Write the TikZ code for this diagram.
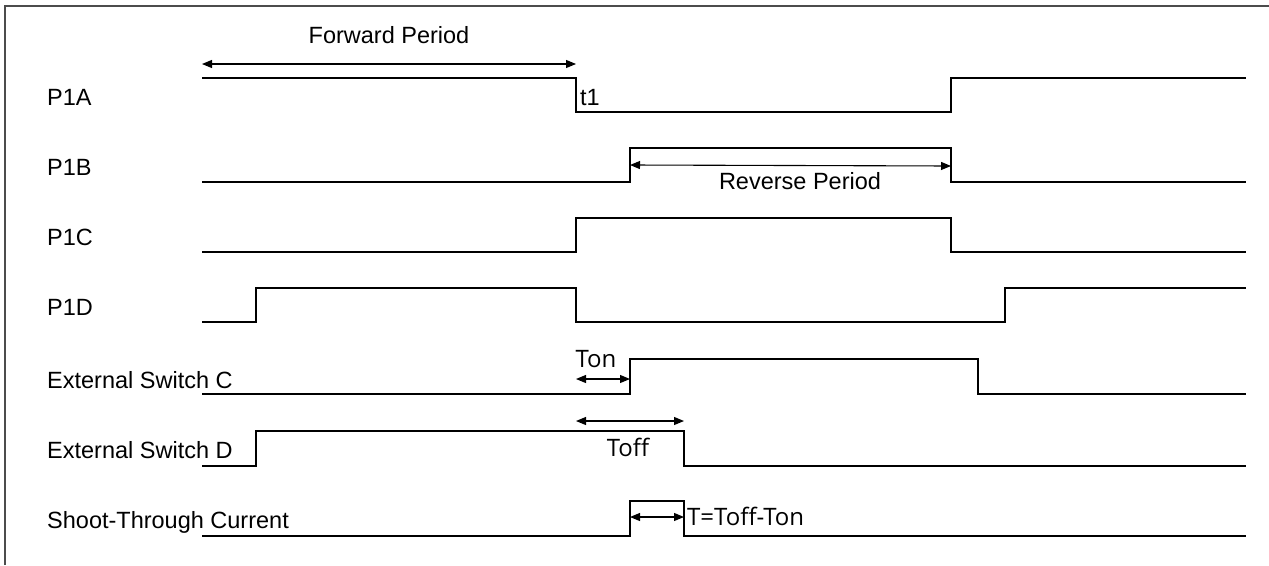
\documentclass[tikz,border=0pt]{standalone}
\usepackage{fontspec}
\setmainfont{Liberation Sans}
\newfontfamily\uifont{Open Sans}
\usetikzlibrary{arrows.meta}

\tikzset{
  wave/.style={line width=2.2pt, line join=miter},
  span/.style={{Triangle[length=10pt,width=8pt]}-{Triangle[length=10pt,width=8pt]}, line width=1.1pt},
  siglabel/.style={anchor=base west, inner sep=0pt, font=\fontsize{23.5}{28}\selectfont},
  uilabel/.style={anchor=base, inner sep=0pt, font=\uifont\fontsize{24}{28}\selectfont},
}

\begin{document}
\begin{tikzpicture}[x=1pt, y=-1pt]
    \useasboundingbox (0,0) rectangle (1269,565);

    % Frame (top and left edge)
    \draw[black!70, line width=1.5pt] (5,565) -- (5,6) -- (1269,6);

    % Signal names
    \node[siglabel] (p1a)   at (47,105) {P1A};
    \node[siglabel] (p1b)   at (47,175) {P1B};
    \node[siglabel] (p1c)   at (47,245) {P1C};
    \node[siglabel] (p1d)   at (47,315) {P1D};
    \node[siglabel] (extc)  at (47,388) {External Switch C};
    \node[siglabel] (extd)  at (47,458) {External Switch D};
    \node[siglabel] (shoot) at (47,528) {Shoot-Through Current};

    % Waveforms
    \draw[wave] (202,78) -| (576,112) -| (951,78) -- (1246,78);
    \draw[wave] (202,182) -| (630,148) -| (951,182) -- (1246,182);
    \draw[wave] (202,252) -| (576,218) -| (951,252) -- (1246,252);
    \draw[wave] (202,322) -| (256,288) -| (576,322) -| (1005,288) -- (1246,288);
    \draw[wave] (202,394) -| (630,359) -| (978,394) -- (1246,394);
    \draw[wave] (202,466) -| (256,431) -| (684,466) -- (1246,466);
    \draw[wave] (202,536) -| (630,501) -| (684,536) -- (1246,536);

    % Forward period and t1
    \coordinate (fwdL) at (202,64);
    \coordinate (fwdR) at (576,64);
    \draw[span] (fwdL) -- (fwdR);
    \node[siglabel, anchor=base] (fwd) at (389,43) {Forward Period};
    \node[siglabel] (t1) at (580,105) {t1};

    % Reverse period
    \coordinate (revL) at (630,165);
    \coordinate (revR) at (951,166);
    \draw[span] (revL) -- (revR);
    \node[siglabel, anchor=base] (rev) at (800,189) {Reverse Period};

    % Ton
    \coordinate (tonL) at (576,379);
    \coordinate (tonR) at (630,379);
    \draw[span] (tonL) -- (tonR);
    \node[uilabel] (ton) at (596,367) {Ton};

    % Toff
    \coordinate (toffL) at (576,421);
    \coordinate (toffR) at (684,421);
    \draw[span] (toffL) -- (toffR);
    \node[uilabel] (toff) at (628,456) {Toff};

    % Shoot-through time
    \coordinate (stL) at (630,517);
    \coordinate (stR) at (684,517);
    \draw[span] (stL) -- (stR);
    \node[uilabel, anchor=base west] (tdiff) at (687,525) {T=Toff-Ton};
\end{tikzpicture}
\end{document}
